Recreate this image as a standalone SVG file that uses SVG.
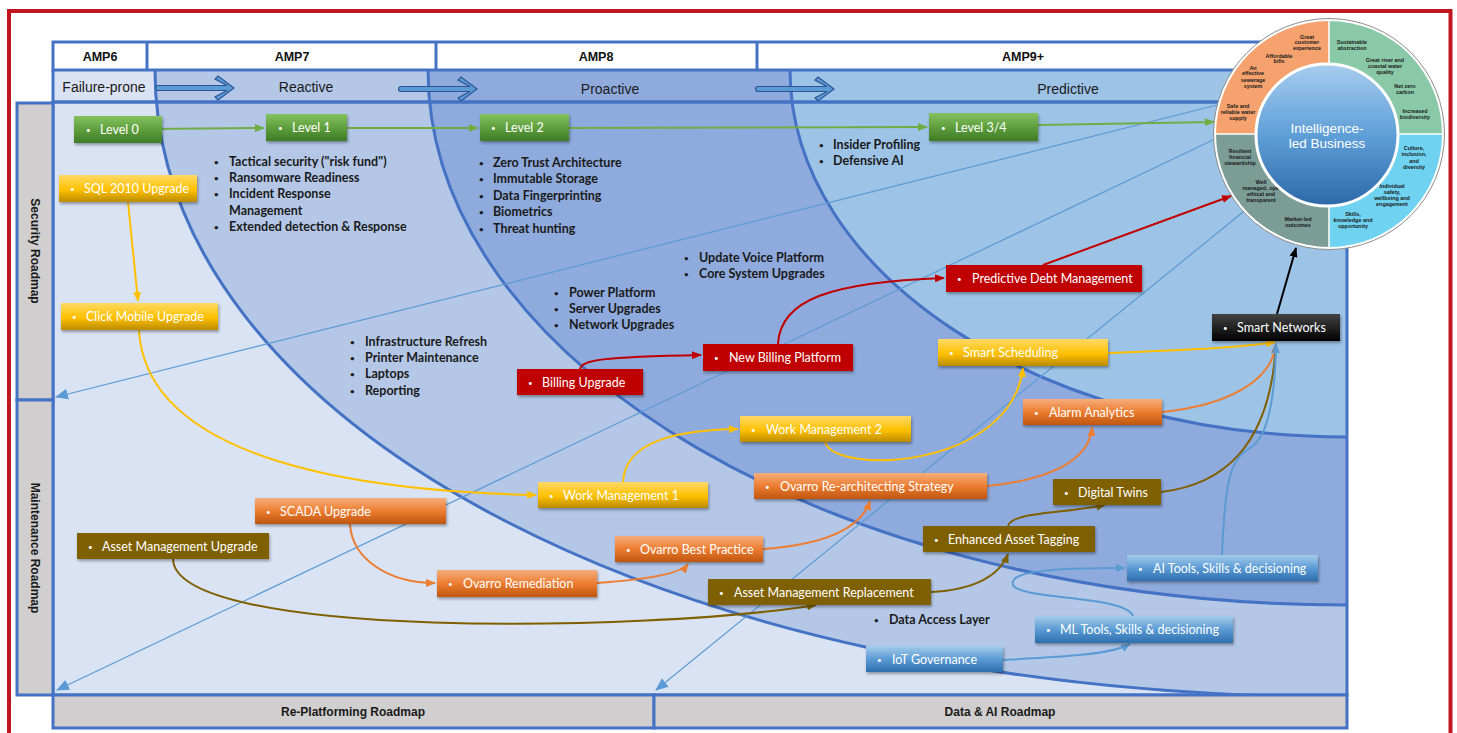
<svg xmlns="http://www.w3.org/2000/svg" width="1457" height="733" viewBox="0 0 1457 733">
<defs>
<style>
.hdr{font-family:"Liberation Sans",Arial,sans-serif;font-weight:bold;font-size:12.5px;fill:#111;text-anchor:middle}
.phase{font-family:"Liberation Sans",Arial,sans-serif;font-size:14px;fill:#1a1a1a;text-anchor:middle}
.side{font-family:"Liberation Sans",Arial,sans-serif;font-weight:bold;font-size:12px;fill:#1a1a1a;text-anchor:middle}
.ann{font-family:Lato,"Liberation Sans",sans-serif;font-weight:bold;font-size:12.5px;fill:#1a1a1a}
.nl{font-family:Lato,"Liberation Sans",sans-serif;font-size:12.5px;fill:#fff}
.bu{font-size:8px;baseline-shift:1.5px}
.q{font-family:"Liberation Sans",Arial,sans-serif;font-weight:bold;font-size:5.4px;fill:#1a1a1a;text-anchor:middle}
.bd{stroke:#4472c4;stroke-width:3;fill:none}
.cur{stroke:#4472c4;stroke-width:3;fill:none}
.thin{stroke:#5b9bd5;stroke-width:1.2;fill:none}
.c{fill:none;stroke-width:2}
.chev{fill:#5b9bd5;stroke:#2f5597;stroke-width:1.2}
</style>
<linearGradient id="gG" x1="0" y1="0" x2="0" y2="1"><stop offset="0" stop-color="#84c260"/><stop offset="0.5" stop-color="#5f9f3d"/><stop offset="1" stop-color="#3e7c27"/></linearGradient>
<linearGradient id="gY" x1="0" y1="0" x2="0" y2="1"><stop offset="0" stop-color="#ffd966"/><stop offset="0.55" stop-color="#ffc000"/><stop offset="1" stop-color="#b98b00"/></linearGradient>
<linearGradient id="gO" x1="0" y1="0" x2="0" y2="1"><stop offset="0" stop-color="#f5ae7c"/><stop offset="0.5" stop-color="#ed7d31"/><stop offset="1" stop-color="#c0560f"/></linearGradient>
<linearGradient id="gB" x1="0" y1="0" x2="0" y2="1"><stop offset="0" stop-color="#a5cbea"/><stop offset="0.5" stop-color="#5b9bd5"/><stop offset="1" stop-color="#2e6fae"/></linearGradient>
<linearGradient id="gK" x1="0" y1="0" x2="0" y2="1"><stop offset="0" stop-color="#444"/><stop offset="1" stop-color="#000"/></linearGradient>
<linearGradient id="gI" x1="0" y1="0" x2="0" y2="1"><stop offset="0" stop-color="#a8cdee"/><stop offset="0.5" stop-color="#5f9fd8"/><stop offset="1" stop-color="#2c68a8"/></linearGradient>
<filter id="sh" x="-10%" y="-20%" width="125%" height="160%"><feDropShadow dx="1" dy="2" stdDeviation="1.5" flood-color="#000" flood-opacity="0.35"/></filter>
<clipPath id="plot"><rect x="53" y="70" width="1294" height="625"/></clipPath>
<path id="chevArrow" class="chev" d="M2,-2.5 L71,-2.5 L59,-9 L62,-12 L78,0 L62,12 L59,9 L71,2.5 L2,2.5 A2.5,2.5 0 0 1 2,-2.5 Z"/>
<marker id="mG" viewBox="0 0 10 8" refX="9" refY="4" markerWidth="10" markerHeight="8" markerUnits="userSpaceOnUse" orient="auto"><path d="M0,0 L10,4 L0,8 z" fill="#70ad47"/></marker>
<marker id="mY" viewBox="0 0 10 8" refX="9" refY="4" markerWidth="10" markerHeight="8" markerUnits="userSpaceOnUse" orient="auto"><path d="M0,0 L10,4 L0,8 z" fill="#ffc000"/></marker>
<marker id="mR" viewBox="0 0 10 8" refX="9" refY="4" markerWidth="10" markerHeight="8" markerUnits="userSpaceOnUse" orient="auto"><path d="M0,0 L10,4 L0,8 z" fill="#c00000"/></marker>
<marker id="mO" viewBox="0 0 10 8" refX="9" refY="4" markerWidth="10" markerHeight="8" markerUnits="userSpaceOnUse" orient="auto"><path d="M0,0 L10,4 L0,8 z" fill="#ed7d31"/></marker>
<marker id="mN" viewBox="0 0 10 8" refX="9" refY="4" markerWidth="10" markerHeight="8" markerUnits="userSpaceOnUse" orient="auto"><path d="M0,0 L10,4 L0,8 z" fill="#7f6000"/></marker>
<marker id="mB" viewBox="0 0 10 8" refX="9" refY="4" markerWidth="10" markerHeight="8" markerUnits="userSpaceOnUse" orient="auto"><path d="M0,0 L10,4 L0,8 z" fill="#5b9bd5"/></marker>
<marker id="mK" viewBox="0 0 10 8" refX="9" refY="4" markerWidth="10" markerHeight="8" markerUnits="userSpaceOnUse" orient="auto"><path d="M0,0 L10,4 L0,8 z" fill="#000"/></marker>
<marker id="mT" viewBox="0 0 12 10" refX="11" refY="5" markerWidth="13" markerHeight="11" markerUnits="userSpaceOnUse" orient="auto"><path d="M0,0 L12,5 L0,10 z" fill="#5b9bd5"/></marker>
</defs>

<rect x="0" y="0" width="1457" height="733" fill="#fff"/>
<rect x="9" y="11" width="1441.5" height="800" fill="none" stroke="#c0161f" stroke-width="4"/>

<g id="header">
<rect x="53" y="42" width="1237" height="28" fill="#fff"/>
<text class="hdr" x="100" y="60.5">AMP6</text>
<text class="hdr" x="292" y="60.5">AMP7</text>
<text class="hdr" x="596" y="60.5">AMP8</text>
<text class="hdr" x="1023" y="60.5">AMP9+</text>
</g>

<g id="regions" clip-path="url(#plot)">
<rect x="53" y="70" width="1294" height="625" fill="#dae3f3"/>
<path d="M155,70 C155,420 660,697 1347,697 L1347,70 Z" fill="#b4c7e7"/>
<path d="M428,70 C428,365 840,605 1347,605 L1347,70 Z" fill="#8faadc"/>
<path d="M790,70 C790,273 1040,437 1347,437 L1347,70 Z" fill="#9dc3e6"/>
<path class="cur" d="M155,70 C155,420 660,697 1347,697"/>
<path class="cur" d="M428,70 C428,365 840,605 1347,605"/>
<path class="cur" d="M790,70 C790,273 1040,437 1347,437"/>
</g>

<g id="frame">
<rect class="bd" x="53" y="42" width="1237" height="28"/>
<line class="bd" x1="147" y1="42" x2="147" y2="70"/>
<line class="bd" x1="436" y1="42" x2="436" y2="70"/>
<line class="bd" x1="757" y1="42" x2="757" y2="70"/>
<line class="bd" x1="53" y1="70" x2="53" y2="102"/>
<line class="bd" x1="53" y1="102" x2="1347" y2="102"/>
<rect class="bd" x="53" y="102" width="1294" height="593"/>
<rect x="17" y="103" width="36" height="297" fill="#d0cece" stroke="#4472c4" stroke-width="3"/>
<rect x="17" y="400" width="36" height="295" fill="#d0cece" stroke="#4472c4" stroke-width="3"/>
<rect x="53" y="695" width="601" height="33" fill="#d0cece" stroke="#4472c4" stroke-width="3"/>
<rect x="654" y="695" width="693" height="33" fill="#d0cece" stroke="#4472c4" stroke-width="3"/>
<text class="side" transform="translate(31,251) rotate(90)">Security Roadmap</text>
<text class="side" transform="translate(31,548) rotate(90)">Maintenance Roadmap</text>
<text class="side" x="353" y="716">Re-Platforming Roadmap</text>
<text class="side" x="1000" y="716">Data &amp; AI Roadmap</text>
</g>

<g id="phases">
<text class="phase" x="104" y="92">Failure-prone</text>
<text class="phase" x="306" y="92">Reactive</text>
<text class="phase" x="610" y="94">Proactive</text>
<text class="phase" x="1068" y="94">Predictive</text>
<use href="#chevArrow" transform="translate(156,88)"/>
<use href="#chevArrow" transform="translate(399,89)"/>
<use href="#chevArrow" transform="translate(756,89)"/>
</g>

<g id="annotations">
<text class="ann"><tspan class="bu" x="214" y="165.5">•</tspan><tspan x="229" y="165.5">Tactical security ("risk fund")</tspan></text>
<text class="ann"><tspan class="bu" x="214" y="181.5">•</tspan><tspan x="229" y="181.5">Ransomware Readiness</tspan></text>
<text class="ann"><tspan class="bu" x="214" y="197.5">•</tspan><tspan x="229" y="197.5">Incident Response</tspan></text>
<text class="ann"><tspan x="229" y="214.5">Management</tspan></text>
<text class="ann"><tspan class="bu" x="214" y="231">•</tspan><tspan x="229" y="231">Extended detection &amp; Response</tspan></text>

<text class="ann"><tspan class="bu" x="479" y="166.5">•</tspan><tspan x="493" y="166.5">Zero Trust Architecture</tspan></text>
<text class="ann"><tspan class="bu" x="479" y="183">•</tspan><tspan x="493" y="183">Immutable Storage</tspan></text>
<text class="ann"><tspan class="bu" x="479" y="199.5">•</tspan><tspan x="493" y="199.5">Data Fingerprinting</tspan></text>
<text class="ann"><tspan class="bu" x="479" y="216">•</tspan><tspan x="493" y="216">Biometrics</tspan></text>
<text class="ann"><tspan class="bu" x="479" y="232.5">•</tspan><tspan x="493" y="232.5">Threat hunting</tspan></text>

<text class="ann"><tspan class="bu" x="819" y="148.5">•</tspan><tspan x="833" y="148.5">Insider Profiling</tspan></text>
<text class="ann"><tspan class="bu" x="819" y="164.5">•</tspan><tspan x="833" y="164.5">Defensive AI</tspan></text>

<text class="ann"><tspan class="bu" x="350" y="345.5">•</tspan><tspan x="365" y="345.5">Infrastructure Refresh</tspan></text>
<text class="ann"><tspan class="bu" x="350" y="361.5">•</tspan><tspan x="365" y="361.5">Printer Maintenance</tspan></text>
<text class="ann"><tspan class="bu" x="350" y="378">•</tspan><tspan x="365" y="378">Laptops</tspan></text>
<text class="ann"><tspan class="bu" x="350" y="394.5">•</tspan><tspan x="365" y="394.5">Reporting</tspan></text>

<text class="ann"><tspan class="bu" x="554" y="296.5">•</tspan><tspan x="569" y="296.5">Power Platform</tspan></text>
<text class="ann"><tspan class="bu" x="554" y="312.5">•</tspan><tspan x="569" y="312.5">Server Upgrades</tspan></text>
<text class="ann"><tspan class="bu" x="554" y="329">•</tspan><tspan x="569" y="329">Network Upgrades</tspan></text>

<text class="ann"><tspan class="bu" x="684" y="261.5">•</tspan><tspan x="699" y="261.5">Update Voice Platform</tspan></text>
<text class="ann"><tspan class="bu" x="684" y="278">•</tspan><tspan x="699" y="278">Core System Upgrades</tspan></text>

<text class="ann"><tspan class="bu" x="874" y="623.5">•</tspan><tspan x="889" y="623.5">Data Access Layer</tspan></text>
</g>

<g id="roadmap-lines">
<path class="thin" d="M1217,105 L56,397" marker-end="url(#mT)"/>
<path class="thin" d="M1213,140 L57,690" marker-end="url(#mT)"/>
<path class="thin" d="M1243,212 L656,690" marker-end="url(#mT)"/>
</g>

<g id="intelligence-led-business">
<circle cx="1329" cy="134" r="115.5" fill="#fff" stroke="#8c8c8c" stroke-width="1"/>
<path d="M1329,134 L1216,134 A113,113 0 0 1 1329,21 Z" fill="#f5a26f"/>
<path d="M1329,134 L1329,21 A113,113 0 0 1 1442,134 Z" fill="#89c9a8"/>
<path d="M1329,134 L1442,134 A113,113 0 0 1 1329,247 Z" fill="#6ed2f0"/>
<path d="M1329,134 L1329,247 A113,113 0 0 1 1216,134 Z" fill="#7c9c96"/>
<line x1="1216" y1="134" x2="1442" y2="134" stroke="#fff" stroke-width="1.5"/>
<line x1="1329" y1="21" x2="1329" y2="247" stroke="#fff" stroke-width="1.5"/>
<text class="q"><tspan x="1307" y="38.5">Great</tspan><tspan x="1307" y="44.3">customer</tspan><tspan x="1307" y="50.1">experience</tspan></text>
<text class="q"><tspan x="1279" y="57.5">Affordable</tspan><tspan x="1279" y="63">bills</tspan></text>
<text class="q"><tspan x="1253" y="69.5">An</tspan><tspan x="1253" y="75.3">effective</tspan><tspan x="1253" y="81.5">sewerage</tspan><tspan x="1253" y="87.8">system</tspan></text>
<text class="q"><tspan x="1238" y="107.5">Safe and</tspan><tspan x="1238" y="113.5">reliable water</tspan><tspan x="1238" y="119.8">supply</tspan></text>
<text class="q"><tspan x="1352" y="44">Sustainable</tspan><tspan x="1352" y="50">abstraction</tspan></text>
<text class="q"><tspan x="1385" y="62">Great river and</tspan><tspan x="1385" y="68.3">coastal water</tspan><tspan x="1385" y="74.2">quality</tspan></text>
<text class="q"><tspan x="1405" y="87.5">Net zero</tspan><tspan x="1405" y="93.5">carbon</tspan></text>
<text class="q"><tspan x="1415" y="112.5">Increased</tspan><tspan x="1415" y="118.5">biodiversity</tspan></text>
<text class="q"><tspan x="1414" y="150">Culture,</tspan><tspan x="1414" y="156">inclusion,</tspan><tspan x="1414" y="162.5">and</tspan><tspan x="1414" y="168.5">diversity</tspan></text>
<text class="q"><tspan x="1392" y="187.5">Individual</tspan><tspan x="1392" y="193.5">safety,</tspan><tspan x="1392" y="199.5">wellbeing and</tspan><tspan x="1392" y="205.8">engagement</tspan></text>
<text class="q"><tspan x="1353" y="216">Skills,</tspan><tspan x="1353" y="222">knowledge and</tspan><tspan x="1353" y="228">opportunity</tspan></text>
<text class="q"><tspan x="1240" y="153">Resilient</tspan><tspan x="1240" y="158.7">financial</tspan><tspan x="1240" y="164.7">stewardship</tspan></text>
<text class="q"><tspan x="1261" y="183.5">Well</tspan><tspan x="1263" y="189.5">managed, open,</tspan><tspan x="1261" y="196">ethical and</tspan><tspan x="1261" y="202">transparent</tspan></text>
<text class="q"><tspan x="1298" y="221">Market-led</tspan><tspan x="1298" y="227">outcomes</tspan></text>
<circle cx="1327" cy="135" r="71" fill="url(#gI)" stroke="#fff" stroke-width="3"/>
<text x="1327" y="132.5" font-family="'Liberation Sans',Arial,sans-serif" font-size="13.5" fill="#fff" text-anchor="middle">Intelligence-</text>
<text x="1327" y="147.5" font-family="'Liberation Sans',Arial,sans-serif" font-size="13.5" fill="#fff" text-anchor="middle">led Business</text>
</g>

<g id="connectors">
<path class="c" stroke="#70ad47" d="M147,129 L264,128" marker-end="url(#mG)"/>
<path class="c" stroke="#70ad47" d="M347,128 L478,128" marker-end="url(#mG)"/>
<path class="c" stroke="#70ad47" d="M569,128 L927,127" marker-end="url(#mG)"/>
<path class="c" stroke="#70ad47" d="M1038,125 L1214,122" marker-end="url(#mG)"/>

<path class="c" stroke="#ffc000" d="M128,202 L138,301" marker-end="url(#mY)"/>
<path class="c" stroke="#ffc000" d="M139,330 C145,440 300,490 536,495" marker-end="url(#mY)"/>
<path class="c" stroke="#ffc000" d="M623,482 C625,440 680,430 738,429" marker-end="url(#mY)"/>
<path class="c" stroke="#ffc000" d="M825,442 C835,475 1010,470 1023,368" marker-end="url(#mY)"/>
<path class="c" stroke="#ffc000" d="M1108,353 C1180,350 1240,348 1275,342" marker-end="url(#mY)"/>

<path class="c" stroke="#c00000" d="M580,369 C582,360 600,357 701,355" marker-end="url(#mR)"/>
<path class="c" stroke="#c00000" d="M778,344 C780,300 830,282 944,278" marker-end="url(#mR)"/>
<path class="c" stroke="#c00000" d="M1043,265 L1231,196" marker-end="url(#mR)"/>

<path class="c" stroke="#ed7d31" d="M350,524 C352,560 390,583 435,583" marker-end="url(#mO)"/>
<path class="c" stroke="#ed7d31" d="M597,583 C640,580 680,575 688,564" marker-end="url(#mO)"/>
<path class="c" stroke="#ed7d31" d="M763,549 C820,545 860,530 870,501" marker-end="url(#mO)"/>
<path class="c" stroke="#ed7d31" d="M987,486 C1050,480 1090,460 1092,427" marker-end="url(#mO)"/>
<path class="c" stroke="#ed7d31" d="M1162,412 C1230,405 1272,380 1276,344" marker-end="url(#mO)"/>

<path class="c" stroke="#7f6000" d="M173,559 C175,640 650,632 816,605" marker-end="url(#mN)"/>
<path class="c" stroke="#7f6000" d="M931,592 C975,590 1000,575 1008,554" marker-end="url(#mN)"/>
<path class="c" stroke="#7f6000" d="M1008,526 C1012,512 1060,514 1105,505" marker-end="url(#mN)"/>
<path class="c" stroke="#7f6000" d="M1161,492 C1220,485 1270,450 1276,344" marker-end="url(#mN)"/>

<path class="c" stroke="#5b9bd5" d="M1003,660 C1060,657 1110,655 1130,644" marker-end="url(#mB)"/>
<path class="c" stroke="#5b9bd5" d="M1133,616 C1125,595 1020,600 1013,585 C1008,570 1060,568 1125,568" marker-end="url(#mB)"/>
<path class="c" stroke="#5b9bd5" d="M1222,555 C1225,480 1230,460 1250,448 C1268,438 1275,400 1276,344" marker-end="url(#mB)"/>

<path class="c" stroke="#000" d="M1277,314 L1296,248" marker-end="url(#mK)"/>
</g>

<g id="n-level0"><rect x="74" y="116" width="88" height="27" fill="url(#gG)" filter="url(#sh)"/><text class="nl" y="134"><tspan class="bu" x="86">•</tspan><tspan x="100">Level 0</tspan></text></g>
<g id="n-level1"><rect x="266" y="114" width="81" height="27" fill="url(#gG)" filter="url(#sh)"/><text class="nl" y="132"><tspan class="bu" x="278">•</tspan><tspan x="292">Level 1</tspan></text></g>
<g id="n-level2"><rect x="480" y="114" width="89" height="27" fill="url(#gG)" filter="url(#sh)"/><text class="nl" y="132"><tspan class="bu" x="491">•</tspan><tspan x="505">Level 2</tspan></text></g>
<g id="n-level34"><rect x="929" y="113" width="109" height="28" fill="url(#gG)" filter="url(#sh)"/><text class="nl" y="131.5"><tspan class="bu" x="941">•</tspan><tspan x="955">Level 3/4</tspan></text></g>

<g id="n-sql2010"><rect x="59" y="175" width="138" height="27" fill="url(#gY)" filter="url(#sh)"/><text class="nl" y="193"><tspan class="bu" x="70">•</tspan><tspan x="84">SQL 2010 Upgrade</tspan></text></g>
<g id="n-clickmobile"><rect x="61" y="303" width="157" height="27" fill="url(#gY)" filter="url(#sh)"/><text class="nl" y="321"><tspan class="bu" x="72">•</tspan><tspan x="86">Click Mobile Upgrade</tspan></text></g>
<g id="n-wm1"><rect x="538" y="482" width="170" height="26" fill="url(#gY)" filter="url(#sh)"/><text class="nl" y="499.5"><tspan class="bu" x="549">•</tspan><tspan x="563">Work Management 1</tspan></text></g>
<g id="n-wm2"><rect x="740" y="416" width="171" height="26" fill="url(#gY)" filter="url(#sh)"/><text class="nl" y="433.5"><tspan class="bu" x="751">•</tspan><tspan x="766">Work Management 2</tspan></text></g>
<g id="n-smartscheduling"><rect x="938" y="339" width="170" height="27" fill="url(#gY)" filter="url(#sh)"/><text class="nl" y="357"><tspan class="bu" x="949">•</tspan><tspan x="963">Smart Scheduling</tspan></text></g>

<g id="n-billingupgrade"><rect x="517" y="369" width="126" height="26" fill="#c00000" filter="url(#sh)"/><text class="nl" y="386.5"><tspan class="bu" x="528">•</tspan><tspan x="542">Billing Upgrade</tspan></text></g>
<g id="n-newbilling"><rect x="703" y="344" width="150" height="27" fill="#c00000" filter="url(#sh)"/><text class="nl" y="362"><tspan class="bu" x="714">•</tspan><tspan x="729">New Billing Platform</tspan></text></g>
<g id="n-preddebt"><rect x="946" y="265" width="196" height="27" fill="#c00000" filter="url(#sh)"/><text class="nl" y="283"><tspan class="bu" x="957">•</tspan><tspan x="972">Predictive Debt Management</tspan></text></g>

<g id="n-scada"><rect x="255" y="498" width="191" height="26" fill="url(#gO)" filter="url(#sh)"/><text class="nl" y="515.5"><tspan class="bu" x="266">•</tspan><tspan x="280">SCADA Upgrade</tspan></text></g>
<g id="n-ovarrorem"><rect x="437" y="570" width="160" height="27" fill="url(#gO)" filter="url(#sh)"/><text class="nl" y="588"><tspan class="bu" x="448">•</tspan><tspan x="463">Ovarro Remediation</tspan></text></g>
<g id="n-ovarrobp"><rect x="615" y="536" width="148" height="26" fill="url(#gO)" filter="url(#sh)"/><text class="nl" y="553.5"><tspan class="bu" x="626">•</tspan><tspan x="640">Ovarro Best Practice</tspan></text></g>
<g id="n-ovarrorearch"><rect x="754" y="473" width="233" height="26" fill="url(#gO)" filter="url(#sh)"/><text class="nl" y="490.5"><tspan class="bu" x="765">•</tspan><tspan x="780">Ovarro Re-architecting Strategy</tspan></text></g>
<g id="n-alarm"><rect x="1023" y="399" width="139" height="26" fill="url(#gO)" filter="url(#sh)"/><text class="nl" y="416.5"><tspan class="bu" x="1034">•</tspan><tspan x="1049">Alarm Analytics</tspan></text></g>

<g id="n-amupgrade"><rect x="77" y="533" width="192" height="26" fill="#7f6000" filter="url(#sh)"/><text class="nl" y="550.5"><tspan class="bu" x="88">•</tspan><tspan x="102">Asset Management Upgrade</tspan></text></g>
<g id="n-amreplacement"><rect x="708" y="579" width="223" height="26" fill="#7f6000" filter="url(#sh)"/><text class="nl" y="596.5"><tspan class="bu" x="719">•</tspan><tspan x="734">Asset Management Replacement</tspan></text></g>
<g id="n-tagging"><rect x="923" y="526" width="172" height="26" fill="#7f6000" filter="url(#sh)"/><text class="nl" y="543.5"><tspan class="bu" x="934">•</tspan><tspan x="948">Enhanced Asset Tagging</tspan></text></g>
<g id="n-twins"><rect x="1053" y="479" width="108" height="26" fill="#7f6000" filter="url(#sh)"/><text class="nl" y="496.5"><tspan class="bu" x="1064">•</tspan><tspan x="1078">Digital Twins</tspan></text></g>

<g id="n-iot"><rect x="866" y="646" width="137" height="26" fill="url(#gB)" filter="url(#sh)"/><text class="nl" y="663.5"><tspan class="bu" x="877">•</tspan><tspan x="892">IoT Governance</tspan></text></g>
<g id="n-ml"><rect x="1035" y="616" width="198" height="27" fill="url(#gB)" filter="url(#sh)"/><text class="nl" y="634"><tspan class="bu" x="1046">•</tspan><tspan x="1060">ML Tools, Skills &amp; decisioning</tspan></text></g>
<g id="n-ai"><rect x="1127" y="555" width="191" height="26" fill="url(#gB)" filter="url(#sh)"/><text class="nl" y="572.5"><tspan class="bu" x="1138">•</tspan><tspan x="1153">AI Tools, Skills &amp; decisioning</tspan></text></g>

<g id="n-smartnetworks"><rect x="1212" y="314" width="128" height="27" fill="url(#gK)" filter="url(#sh)"/><text class="nl" y="332"><tspan class="bu" x="1223">•</tspan><tspan x="1237">Smart Networks</tspan></text></g>
</svg>
